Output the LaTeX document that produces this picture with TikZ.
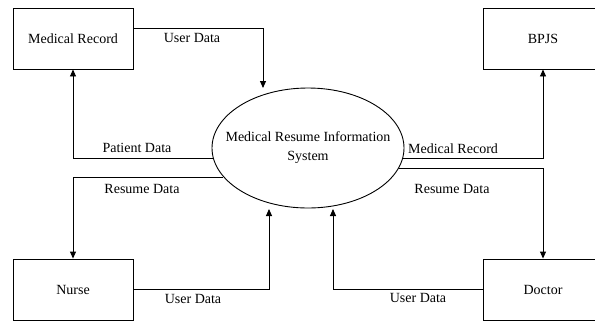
\documentclass[tikz,border=0pt]{standalone}
\usepackage{fontspec}
\setmainfont{Liberation Serif}
\usetikzlibrary{positioning, shapes.geometric, arrows.meta, calc}
\tikzset{
    % Node Styles
    entity/.style={
        rectangle, draw=black, line width=0.9bp,
        minimum width=120bp, minimum height=61bp, inner sep=0pt,
        font=\fontsize{14bp}{18bp}\selectfont
    },
    process/.style={
        ellipse, draw=black, line width=0.9bp,
        minimum width=192bp, minimum height=120bp,
        inner xsep=-16bp, inner ysep=0pt,
        align=center, font=\fontsize{14bp}{19bp}\selectfont
    },
    flowlabel/.style={inner sep=0pt, font=\fontsize{14bp}{18bp}\selectfont},
    % Arrow Styles
    flow/.style={-{Triangle[length=7bp, width=6bp]}, line width=0.9bp, color=black}
}

\begin{document}
\begin{tikzpicture}[x=1bp, y=-1bp]
    \useasboundingbox (0,0) rectangle (595,320);

    % --- 1. Process ---
    \node [process] (sys) at (308,148) {Medical Resume Information\\System};

    % --- 2. External Entities ---
    \node [entity] (medrec) at (73,38.5) {Medical Record};
    \node [entity] (bpjs) at (543,38.5) {BPJS};
    \node [entity] (nurse) at (73,289.5) {Nurse};
    \node [entity] (doctor) at (543,289.5) {Doctor};

    % free ends near the ellipse
    \coordinate (medrec_in) at (263,88);
    \coordinate (nurse_in) at (269,209);
    \coordinate (doctor_in) at (333,209);

    % --- 3. Data Flows ---
    \draw [flow] ([yshift=10.5bp]medrec.east) -| (medrec_in);
    \draw [flow] (sys.186) -| (medrec.south);
    \draw [flow] (sys.199) -| (nurse.north);
    \draw [flow] (nurse.east) -| (nurse_in);
    \draw [flow] (sys.-6) -| (bpjs.south);
    \draw [flow] (sys.-13) -| (doctor.north);
    \draw [flow] (doctor.west) -| (doctor_in);

    % --- 4. Flow Labels ---
    \node [flowlabel] (lbl_user_mr) at (192,38) {User Data};
    \node [flowlabel] (lbl_patient) at (137,148) {Patient Data};
    \node [flowlabel] (lbl_resume_nurse) at (142,189) {Resume Data};
    \node [flowlabel] (lbl_user_nurse) at (193,299) {User Data};
    \node [flowlabel] (lbl_medrec_bpjs) at (453,149) {Medical Record};
    \node [flowlabel] (lbl_resume_doctor) at (452,189) {Resume Data};
    \node [flowlabel] (lbl_user_doctor) at (418,298) {User Data};

\end{tikzpicture}
\end{document}
